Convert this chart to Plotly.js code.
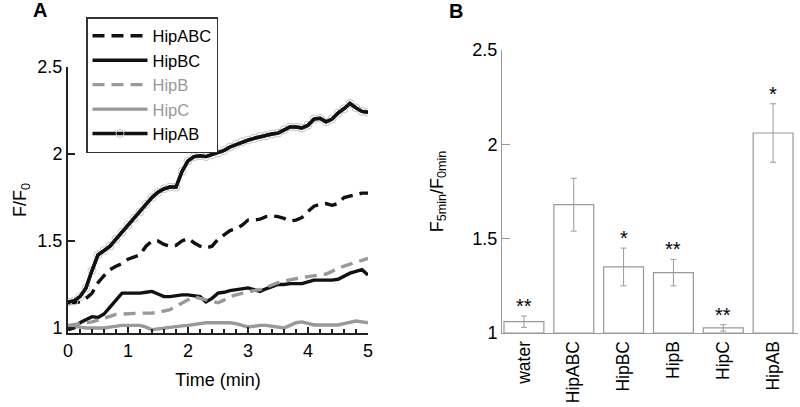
<!DOCTYPE html>
<html>
<head>
<meta charset="utf-8">
<script src="https://cdn.plot.ly/plotly-3.0.1.min.js"></script>
<style>html,body{margin:0;padding:0;background:#fff;}#chart{width:800px;height:407px;}</style>
</head>
<body>
<div id="chart"></div>
<script>
// ---- Panel A: time courses ----
const timeMin = [0,0.1,0.2,0.3,0.4,0.5,0.6,0.7,0.8,0.9,1.0,1.1,1.2,1.3,1.4,1.5,1.6,1.7,1.8,1.9,2.0,2.1,2.2,2.3,2.4,2.5,2.6,2.7,2.8,2.9,3.0,3.1,3.2,3.3,3.4,3.5,3.6,3.7,3.8,3.9,4.0,4.1,4.2,4.3,4.4,4.5,4.6,4.7,4.8,4.9,5.0];
const hipABC = [1.145,1.145,1.15,1.17,1.20,1.26,1.30,1.335,1.355,1.37,1.395,1.41,1.42,1.47,1.50,1.50,1.48,1.47,1.475,1.50,1.515,1.49,1.47,1.46,1.47,1.51,1.535,1.56,1.57,1.59,1.62,1.62,1.625,1.64,1.645,1.64,1.63,1.615,1.62,1.635,1.67,1.70,1.71,1.715,1.705,1.715,1.75,1.76,1.77,1.775,1.775];
const hipBC = [0.99,1.0,1.03,1.05,1.065,1.06,1.08,1.12,1.16,1.20,1.20,1.20,1.20,1.205,1.21,1.195,1.18,1.18,1.185,1.19,1.19,1.185,1.18,1.15,1.17,1.20,1.205,1.215,1.22,1.225,1.23,1.22,1.21,1.225,1.24,1.25,1.25,1.255,1.255,1.255,1.265,1.275,1.275,1.275,1.275,1.28,1.30,1.315,1.325,1.335,1.305];
const hipB = [1.015,1.02,1.025,1.03,1.035,1.045,1.055,1.07,1.078,1.08,1.083,1.085,1.085,1.085,1.085,1.09,1.098,1.105,1.125,1.145,1.165,1.18,1.17,1.16,1.15,1.145,1.16,1.18,1.19,1.20,1.21,1.215,1.22,1.235,1.25,1.26,1.27,1.278,1.285,1.29,1.295,1.30,1.305,1.31,1.325,1.345,1.355,1.365,1.375,1.39,1.40];
const hipC = [1.01,1.01,1.005,1.0,1.0,1.0,1.0,1.005,1.01,1.015,1.015,1.015,1.015,1.005,0.99,0.995,1.0,1.005,1.01,1.012,1.015,1.02,1.025,1.03,1.03,1.03,1.03,1.03,1.025,1.015,1.006,1.01,1.015,1.015,1.01,1.003,1.0,1.015,1.03,1.035,1.025,1.017,1.017,1.017,1.017,1.017,1.025,1.035,1.04,1.035,1.03];
const hipAB = [1.15,1.155,1.18,1.23,1.33,1.42,1.445,1.47,1.51,1.55,1.59,1.63,1.667,1.71,1.75,1.78,1.80,1.81,1.81,1.90,1.96,1.985,1.99,1.985,1.995,2.005,2.02,2.04,2.055,2.07,2.08,2.09,2.10,2.105,2.115,2.12,2.14,2.155,2.155,2.15,2.165,2.20,2.205,2.185,2.20,2.235,2.26,2.29,2.265,2.245,2.24];

// ---- Panel B: F5min / F0min ----
const groups = ['water','HipABC','HipBC','HipB','HipC','HipAB'];
const ratio = [1.06,1.68,1.35,1.32,1.027,2.06];
const ratioErr = [0.03,0.14,0.10,0.07,0.017,0.155];
const stars = ['**','','*','**','**','*'];

const FONT = 'Liberation Sans, Arial, Helvetica, sans-serif';
const BLACK = '#111';
const GREY = '#999999';

const traces = [
  {x: timeMin, y: hipABC, name: 'HipABC', mode: 'lines', xaxis: 'x', yaxis: 'y',
   line: {color: BLACK, width: 3.4, dash: '12px,7px'}},
  {x: timeMin, y: hipBC, name: 'HipBC', mode: 'lines', xaxis: 'x', yaxis: 'y',
   line: {color: BLACK, width: 3.4}},
  {x: timeMin, y: hipB, name: '<span style="color:#999999">HipB</span>', mode: 'lines', xaxis: 'x', yaxis: 'y',
   line: {color: GREY, width: 3.4, dash: '12px,7px'}},
  {x: timeMin, y: hipC, name: '<span style="color:#999999">HipC</span>', mode: 'lines', xaxis: 'x', yaxis: 'y',
   line: {color: GREY, width: 3.4}},
  {x: timeMin, y: hipAB, name: 'HipAB', mode: 'lines+markers', xaxis: 'x', yaxis: 'y',
   line: {color: BLACK, width: 3.4},
   marker: {symbol: 'circle-open', size: 8, color: '#c4c4c4', line: {width: 1, color: '#c4c4c4'}}},
  {x: timeMin, y: hipAB, name: 'HipAB', mode: 'lines', xaxis: 'x', yaxis: 'y', showlegend: false,
   line: {color: BLACK, width: 3.4}},
  {x: groups.map((g, i) => i), y: ratio.map(v => v - 1), base: 1, type: 'bar', xaxis: 'x2', yaxis: 'y2', showlegend: false,
   width: 0.8, marker: {color: 'rgba(255,255,255,1)', line: {color: GREY, width: 1.2}},
   error_y: {type: 'data', array: ratioErr, visible: true, color: GREY, thickness: 1, width: 3}}
];

const annotations = [
  {text: '<b>A</b>', xref: 'paper', yref: 'paper', x: 40/800, y: 1 - 10/407, xanchor: 'center', yanchor: 'middle',
   showarrow: false, font: {family: FONT, size: 20, color: '#000'}},
  {text: '<b>B</b>', xref: 'paper', yref: 'paper', x: 456/800, y: 1 - 11/407, xanchor: 'center', yanchor: 'middle',
   showarrow: false, font: {family: FONT, size: 20, color: '#000'}}
];
stars.forEach((s, i) => {
  if (!s) return;
  annotations.push({text: s, xref: 'x2', yref: 'y2', x: i, y: ratio[i] + ratioErr[i], xanchor: 'center', yanchor: 'bottom',
    showarrow: false, yshift: -3, font: {family: FONT, size: 20, color: '#000'}});
});

const layout = {
  width: 800, height: 407,
  margin: {l: 0, r: 0, t: 0, b: 0},
  paper_bgcolor: '#fff', plot_bgcolor: 'rgba(0,0,0,0)',
  font: {family: FONT, size: 18, color: '#000'},
  showlegend: true,
  legend: {x: 86/800, y: 1 - 17/407, xanchor: 'left', yanchor: 'top',
    bordercolor: '#333', borderwidth: 1.5, bgcolor: '#fff', itemwidth: 55,
    font: {family: FONT, size: 16.5, color: '#000'}, tracegroupgap: 0},
  xaxis: {domain: [68/800, 368/800], range: [0, 5], anchor: 'y',
    showgrid: false, zeroline: false, showline: true, linecolor: '#222', linewidth: 2,
    ticks: 'inside', ticklen: 6, tickwidth: 1.5, tickcolor: '#222', dtick: 1, tick0: 0,
    minor: {dtick: 0.2, ticks: 'inside', ticklen: 4, tickwidth: 1.2, tickcolor: '#222'},
    tickfont: {size: 18}, title: {text: 'Time (min)', font: {size: 18}, standoff: 14}},
  yaxis: {domain: [1 - 333/407, 1 - 67/407], range: [0.971, 2.5], anchor: 'x',
    showgrid: false, zeroline: false, showline: true, linecolor: '#222', linewidth: 2,
    ticks: 'inside', ticklen: 7, tickwidth: 1.5, tickcolor: '#222',
    tickvals: [1, 1.5, 2, 2.5], ticktext: ['1', '1.5', '2', '2.5'],
    tickfont: {size: 18}, title: {text: 'F/F<sub>0</sub>', font: {size: 18}, standoff: 6}},
  xaxis2: {domain: [502/800, 798/800], range: [-0.44, 5.5], anchor: 'y2',
    showgrid: false, zeroline: false, showline: true, linecolor: GREY, linewidth: 1,
    ticks: '', tickvals: groups.map((g, i) => i), ticktext: groups, tickangle: -90,
    tickfont: {size: 17.5}},
  yaxis2: {domain: [1 - 333/407, 1 - 50/407], range: [1, 2.5], anchor: 'x2',
    showgrid: false, zeroline: false, showline: true, linecolor: GREY, linewidth: 1,
    ticks: 'inside', ticklen: 8, tickwidth: 1, tickcolor: GREY,
    tickvals: [1, 1.5, 2, 2.5], ticktext: ['1', '1.5', '2', '2.5'],
    tickfont: {size: 18}, title: {text: 'F<sub>5min</sub>/F<sub>0min</sub>', font: {size: 18}, standoff: 24}},
  annotations: annotations
};

Plotly.newPlot('chart', traces, layout, {displayModeBar: false, staticPlot: true});
</script>
</body>
</html>
